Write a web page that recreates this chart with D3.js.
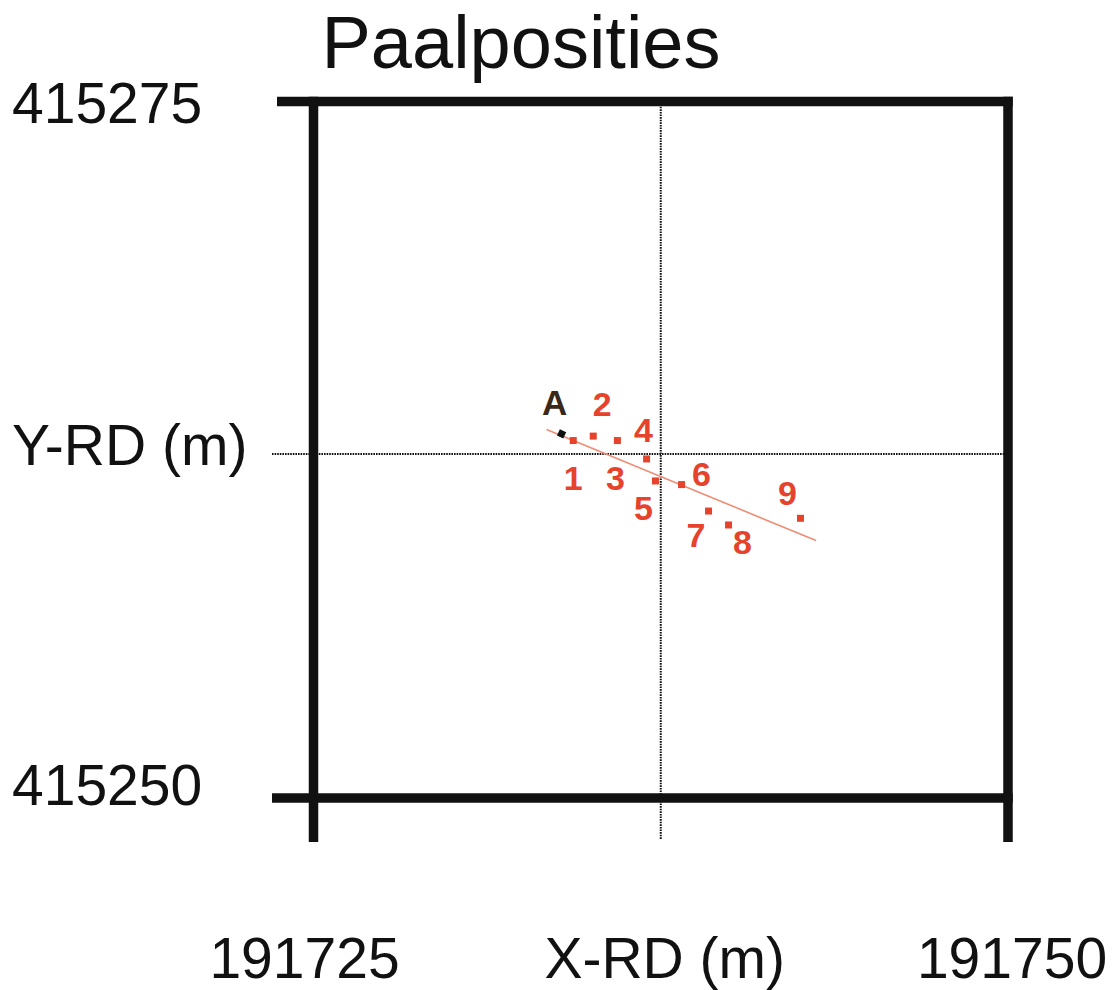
<!DOCTYPE html>
<html>
<head>
<meta charset="utf-8">
<script src="https://cdn.jsdelivr.net/npm/d3@7"></script>
<style>
  html, body { margin: 0; padding: 0; background: #fff; }
  svg { display: block; font-family: "Liberation Sans", Arial, sans-serif; }
</style>
</head>
<body>
<svg id="chart" width="1117" height="990"></svg>
<script>
// ---- data ----
const title = "Paalposities";
const xDomain = [191725, 191750];
const yDomain = [415250, 415275];
const xTickLabels = ["191725", "191750"];
const yTickLabels = ["415275", "415250"];
const xAxisTitle = "X-RD (m)";
const yAxisTitle = "Y-RD (m)";
const crossX = 191737.5;
const crossY = 415262.35;
const pileIds = ["1", "2", "3", "4", "5", "6", "7", "8", "9"];
const pileX = [191734.35, 191735.07, 191735.94, 191736.99, 191737.31, 191738.25, 191739.22, 191739.94, 191742.53];
const pileY = [415262.83, 415262.99, 415262.83, 415262.17, 415261.38, 415261.25, 415260.30, 415259.80, 415260.04];
const pointA = { id: "A", x: 191733.93, y: 415263.07 };
const profileX = [191733.39, 191743.09];
const profileY = [415263.23, 415259.24];

// ---- layout (label offsets in px relative to the point) ----
const labelOffsets = [[0, 49], [9, -20], [-2, 49], [-3, -17], [-12, 39], [20, 1], [-12.5, 36], [14, 29], [-13, -13]];
const labelOffsetA = [-7, -19];

const svg = d3.select("#chart");
const x = d3.scaleLinear().domain(xDomain).range([313.5, 1008]);
const y = d3.scaleLinear().domain(yDomain).range([798, 101.5]);

const red = "#e6432c";

// title
svg.append("text").attr("x", 521).attr("y", 68).attr("text-anchor", "middle")
  .attr("font-size", 74).attr("fill", "#111").text(title);

// dotted crosshair
const g = svg.append("g");
g.append("line").attr("x1", x(crossX)).attr("x2", x(crossX)).attr("y1", y(yDomain[1])).attr("y2", 840)
  .attr("stroke", "#111").attr("stroke-width", 2).attr("stroke-dasharray", "1.6,1");
g.append("line").attr("x1", 272).attr("x2", x(xDomain[1])).attr("y1", y(crossY)).attr("y2", y(crossY))
  .attr("stroke", "#111").attr("stroke-width", 2).attr("stroke-dasharray", "1.6,1");

// thick frame lines
const sw = 9.5;
const frame = svg.append("g").attr("stroke", "#111").attr("stroke-width", sw).attr("stroke-linecap", "butt");
frame.append("line").attr("x1", 277).attr("x2", x(xDomain[1]) + sw / 2).attr("y1", y(yDomain[1])).attr("y2", y(yDomain[1]));
frame.append("line").attr("x1", 272).attr("x2", x(xDomain[1]) + sw / 2).attr("y1", y(yDomain[0])).attr("y2", y(yDomain[0]));
frame.append("line").attr("x1", x(xDomain[0])).attr("x2", x(xDomain[0])).attr("y1", y(yDomain[1]) - sw / 2).attr("y2", 842);
frame.append("line").attr("x1", x(xDomain[1])).attr("x2", x(xDomain[1])).attr("y1", y(yDomain[1]) - sw / 2).attr("y2", 842);

// y tick labels + title
const yLab = svg.append("g").attr("font-size", 57).attr("fill", "#111");
yLab.append("text").attr("x", 12).attr("y", y(yDomain[1]) + 21).text(yTickLabels[0]);
yLab.append("text").attr("x", 12).attr("y", y(yDomain[0]) + 7).text(yTickLabels[1]);
yLab.append("text").attr("x", 12).attr("y", y(crossY) + 11).text(yAxisTitle);

// x tick labels + title
const xLab = svg.append("g").attr("font-size", 57).attr("fill", "#111").attr("text-anchor", "middle");
xLab.append("text").attr("x", x(xDomain[0]) - 9).attr("y", 978).text(xTickLabels[0]);
xLab.append("text").attr("x", x(xDomain[1]) + 4).attr("y", 978).text(xTickLabels[1]);
xLab.append("text").attr("x", x(crossX) + 4).attr("y", 978).text(xAxisTitle);

// profile line
svg.append("line").attr("x1", x(profileX[0])).attr("y1", y(profileY[0]))
  .attr("x2", x(profileX[1])).attr("y2", y(profileY[1]))
  .attr("stroke", "#f08c74").attr("stroke-width", 1.6);

// point A
svg.append("rect").attr("x", x(pointA.x) - 3.5).attr("y", y(pointA.y) - 3.5).attr("width", 7).attr("height", 7)
  .attr("fill", "#111").attr("transform", `rotate(25 ${x(pointA.x)} ${y(pointA.y)})`);
svg.append("text").attr("x", x(pointA.x) + labelOffsetA[0]).attr("y", y(pointA.y) + labelOffsetA[1])
  .attr("text-anchor", "middle").attr("font-size", 35).attr("font-weight", "bold").attr("fill", "#3a2818").text(pointA.id);

// pile points
const piles = pileIds.map((id, i) => ({ id, x: pileX[i], y: pileY[i], off: labelOffsets[i] }));
svg.append("g").selectAll("rect").data(piles).join("rect")
  .attr("x", d => x(d.x) - 3.5).attr("y", d => y(d.y) - 3.5).attr("width", 7).attr("height", 7)
  .attr("fill", red);
svg.append("g").selectAll("text").data(piles).join("text")
  .attr("x", d => x(d.x) + d.off[0]).attr("y", d => y(d.y) + d.off[1])
  .attr("text-anchor", "middle").attr("font-size", 34).attr("font-weight", "bold").attr("fill", red)
  .text(d => d.id);
</script>
</body>
</html>
